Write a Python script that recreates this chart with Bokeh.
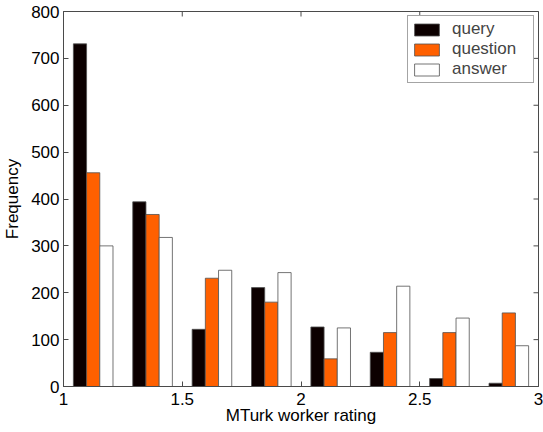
import math
from bokeh.plotting import figure
from bokeh.models import FixedTicker, Range1d, Legend, LegendItem
from bokeh.embed import file_html
from bokeh.resources import INLINE

# ---- data ----
rating_bins = [1.125, 1.375, 1.625, 1.875, 2.125, 2.375, 2.625, 2.875]
query = [731, 394, 122, 211, 127, 73, 17, 7]
question = [456, 367, 231, 180, 59, 115, 115, 157]
answer = [300, 318, 248, 243, 125, 214, 146, 87]
x_ticks = [1, 1.5, 2, 2.5, 3]
x_tick_labels = ["1", "1.5", "2", "2.5", "3"]
y_ticks = [0, 100, 200, 300, 400, 500, 600, 700, 800]
series_names = ["query", "question", "answer"]
series_colors = ["#0c0000", "#ff6000", "#ffffff"]

X_MIN, X_MAX = 1, 3
Y_MIN, Y_MAX = 0, 800

bar_w = 0.0556
offsets = [-bar_w, 0.0, bar_w]
FONT = "Liberation Sans"
AX = "#4a4a4a"

p = figure(width=543, height=432, output_backend="svg", toolbar_location=None,
           x_range=Range1d(X_MIN, X_MAX), y_range=Range1d(Y_MIN, Y_MAX),
           min_border_left=63, min_border_right=5, min_border_top=11, min_border_bottom=46)
p.background_fill_color = "white"
p.border_fill_color = "white"
p.xgrid.visible = False
p.ygrid.visible = False
p.outline_line_color = AX
p.outline_line_width = 1

renderers = []
for vals, off, col in zip([query, question, answer], offsets, series_colors):
    r = p.vbar(x=[b + off for b in rating_bins], top=vals, bottom=0, width=bar_w,
               fill_color=col, line_color="#505050", line_width=0.8)
    renderers.append(r)

# inward ticks on the top and right edges of the box (outer half clipped by the frame)
p.scatter(x=x_ticks, y=[Y_MAX] * len(x_ticks), marker="dash", size=10,
          angle=math.pi / 2, line_color=AX, line_width=1)
p.scatter(x=[X_MAX] * len(y_ticks), y=y_ticks, marker="dash", size=10,
          line_color=AX, line_width=1)

def style_axis(ax):
    ax.axis_line_color = AX
    ax.major_tick_line_color = AX
    ax.major_tick_in = 5
    ax.major_tick_out = 0
    ax.minor_tick_line_color = None
    ax.major_label_text_font = FONT
    ax.major_label_text_color = "black"
    ax.major_label_text_font_size = "17px"
    ax.axis_label_text_font = FONT
    ax.axis_label_text_font_size = "17px"
    ax.axis_label_text_font_style = "normal"
    ax.axis_label_text_color = "black"

xax = p.xaxis[0]
xax.ticker = FixedTicker(ticks=x_ticks)
xax.major_label_overrides = {t: l for t, l in zip(x_ticks, x_tick_labels)}
style_axis(xax)
xax.major_label_standoff = 6
xax.axis_label = "MTurk worker rating"
xax.axis_label_standoff = -2

yax = p.yaxis[0]
yax.ticker = FixedTicker(ticks=y_ticks)
style_axis(yax)
yax.major_label_standoff = 4
yax.axis_label = "Frequency"
yax.axis_label_standoff = 6

legend = Legend(items=[LegendItem(label=n, renderers=[r]) for n, r in zip(series_names, renderers)],
                location="top_right")
legend.margin = 4
legend.padding = 3
legend.spacing = 0
legend.glyph_width = 31
legend.glyph_height = 15
legend.label_height = 19
legend.label_width = 78
legend.label_standoff = 10
legend.label_text_font = FONT
legend.label_text_font_size = "17px"
legend.border_line_color = AX
legend.border_line_width = 1
legend.background_fill_alpha = 1
p.add_layout(legend)

open("out.html", "w").write(file_html(p, INLINE))
